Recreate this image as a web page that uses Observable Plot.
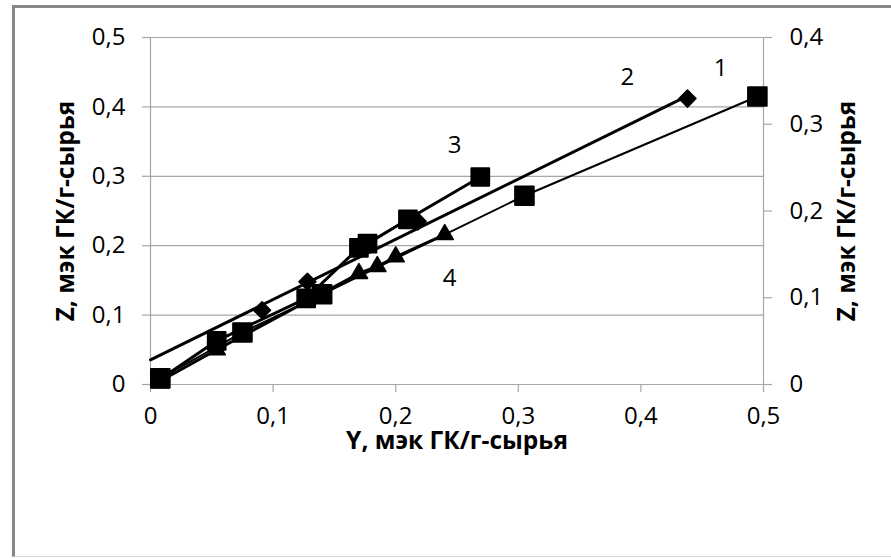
<!DOCTYPE html>
<html>
<head>
<meta charset="utf-8">
<script src="https://cdn.jsdelivr.net/npm/d3@7"></script>
<script src="https://cdn.jsdelivr.net/npm/@observablehq/plot@0.6"></script>
<style>
  html, body { margin: 0; padding: 0; background: #fff; overflow: hidden; }
  #wrap { position: relative; width: 891px; height: 558px; }
  #frame {
    position: absolute; left: 12px; top: 5px; width: 900px; height: 548px;
    border-left: 3px solid #878787; border-top: 3px solid #878787;
    border-bottom: 1px solid #d4d4d4; pointer-events: none;
  }
  #chart { position: absolute; left: 0; top: 0; }
</style>
</head>
<body>
<div id="wrap"><div id="frame"></div><div id="chart"></div></div>
<script>
// Y (mEq GA / g raw material) and Z values for each curve
const y1 = [0.008, 0.075, 0.14, 0.305, 0.495];
const z1 = [0.009, 0.075, 0.13, 0.272, 0.415];

const y2 = [0.091, 0.128, 0.218, 0.438];
const z2 = [0.107, 0.148, 0.235, 0.412];

const y3 = [0.008, 0.054, 0.127, 0.17, 0.177, 0.21, 0.269];
const z3 = [0.008, 0.063, 0.124, 0.197, 0.203, 0.238, 0.299];

const y4 = [0.008, 0.054, 0.17, 0.185, 0.2, 0.24];
const z4 = [0.005, 0.05, 0.16, 0.17, 0.184, 0.216];

// curve numbers and where they are written
const curveNames = ["1", "2", "3", "4"];
const nameY = [0.465, 0.389, 0.248, 0.244];
const nameZ = [0.455, 0.442, 0.344, 0.153];

// axis ticks
const xTicks = [0, 0.1, 0.2, 0.3, 0.4, 0.5];
const zLeftTicks = [0, 0.1, 0.2, 0.3, 0.4, 0.5];
const zRightTicks = [0, 0.1, 0.2, 0.3, 0.4];
const zRightMax = 0.4, zLeftMax = 0.5;

const axisTitleX = "Y, мэк ГК/г-сырья";
const axisTitleZ = "Z, мэк ГК/г-сырья";

const toRows = (ys, zs) => ys.map((v, i) => ({x: v, y: zs[i]}));
const s1 = toRows(y1, z1), s2 = toRows(y2, z2), s3 = toRows(y3, z3), s4 = toRows(y4, z4);
const names = curveNames.map((t, i) => ({t, x: nameY[i], y: nameZ[i]}));

// least-squares trend for curve 2, drawn from Y = 0 to its last point
const mx = d3.mean(y2), mz = d3.mean(z2);
const slope = d3.sum(y2, (v, i) => (v - mx) * (z2[i] - mz)) / d3.sum(y2, v => (v - mx) ** 2);
const icpt = mz - slope * mx;
const trend2 = [0, d3.max(y2)].map(v => ({x: v, y: icpt + slope * v}));

const fmt = v => {
  const r = Math.round(v * 10) / 10;
  return r === 0 ? "0" : String(r).replace(".", ",");
};
const k = zLeftMax / zRightMax;

// filled diamond (square turned by 45°)
const diamond = {
  draw(ctx, size) {
    const h = Math.sqrt(size / 2);
    ctx.moveTo(0, -h); ctx.lineTo(h, 0); ctx.lineTo(0, h); ctx.lineTo(-h, 0); ctx.closePath();
  }
};

const grey = "#a6a6a6";
const font = "'Open Sans', sans-serif";
const tickFont = 24;
const titleFont = 24.5;

const chart = Plot.plot({
  width: 891, height: 558,
  marginLeft: 150, marginRight: 128, marginTop: 37, marginBottom: 174,
  x: {domain: [0, 0.5]},
  y: {domain: [0, zLeftMax]},
  style: {fontFamily: font, fontSize: "24px", color: "#000", background: "transparent", overflow: "visible"},
  marks: [
    Plot.ruleY(zLeftTicks.filter(d => d > 0), {stroke: grey, strokeWidth: 1.2}),
    Plot.ruleX([0, 0.5], {stroke: grey, strokeWidth: 1.2}),
    Plot.ruleY([0], {stroke: grey, strokeWidth: 1.2}),
    Plot.axisY(zLeftTicks, {anchor: "left", tickSize: 8, tickPadding: 17, tickFormat: fmt,
      stroke: grey, strokeWidth: 1.2, fill: "#000", fontSize: tickFont, label: null}),
    Plot.axisY(zRightTicks.map(d => d * k), {anchor: "right", tickSize: 8, tickPadding: 18,
      tickFormat: d => fmt(d / k), stroke: grey, strokeWidth: 1.2, fill: "#000", fontSize: tickFont, label: null}),
    Plot.axisX(xTicks, {anchor: "bottom", tickSize: 8, tickPadding: 14, tickFormat: fmt,
      stroke: grey, strokeWidth: 1.2, fill: "#000", fontSize: tickFont, label: null}),

    Plot.text([axisTitleZ], {frameAnchor: "left", dx: -84, rotate: -90, text: d => d,
      textAnchor: "middle", fontWeight: "bold", fontSize: titleFont}),
    Plot.text([axisTitleZ], {frameAnchor: "right", dx: 84, rotate: -90, text: d => d,
      textAnchor: "middle", fontWeight: "bold", fontSize: titleFont}),
    Plot.text([axisTitleX], {frameAnchor: "bottom", dy: 64, text: d => d,
      textAnchor: "middle", fontWeight: "bold", fontSize: titleFont}),

    Plot.line(s4, {x: "x", y: "y", stroke: "#000", strokeWidth: 3}),
    Plot.line(s3, {x: "x", y: "y", stroke: "#000", strokeWidth: 3}),
    Plot.line(trend2, {x: "x", y: "y", stroke: "#000", strokeWidth: 3}),
    Plot.line(s1, {x: "x", y: "y", stroke: "#000", strokeWidth: 2}),

    Plot.dot(s4, {x: "x", y: "y", symbol: "triangle", r: 6.4, fill: "#000", stroke: "#000",
      strokeWidth: 1.5, strokeLinejoin: "round"}),
    Plot.dot(s2, {x: "x", y: "y", symbol: diamond, r: 6.8, fill: "#000", stroke: "#000",
      strokeWidth: 1.5, strokeLinejoin: "round"}),
    Plot.dot(s3, {x: "x", y: "y", symbol: "square", r: 10, fill: "#000", stroke: "#000",
      strokeWidth: 2, strokeLinejoin: "round"}),
    Plot.dot(s1, {x: "x", y: "y", symbol: "square", r: 10.5, fill: "#000", stroke: "#000",
      strokeWidth: 2, strokeLinejoin: "round"}),

    Plot.text(names, {x: "x", y: "y", text: "t", fontSize: tickFont})
  ]
});
document.getElementById("chart").appendChild(chart);
</script>
</body>
</html>
